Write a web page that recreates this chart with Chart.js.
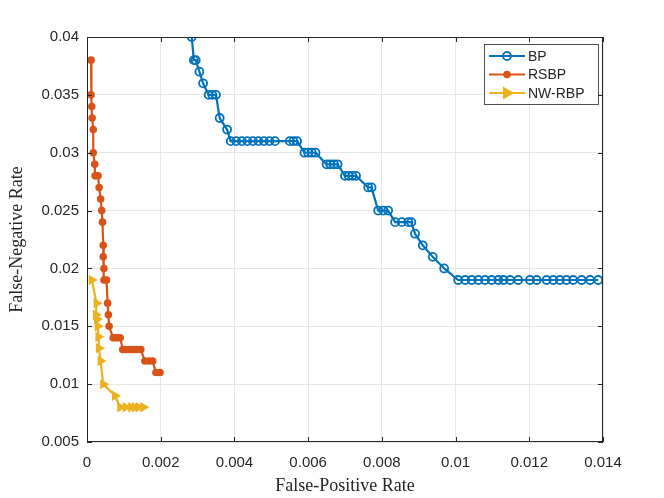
<!DOCTYPE html>
<html>
<head>
<meta charset="utf-8">
<script src="https://cdn.jsdelivr.net/npm/chart.js@4.4.1/dist/chart.umd.min.js"></script>
<style>
  html, body { margin: 0; padding: 0; background: #fff; }
  #wrap { width: 664px; height: 498px; }
</style>
</head>
<body>
<div id="wrap"><canvas id="roc"></canvas></div>
<script>
// curve values
const bpFpr = [0.00284, 0.0029, 0.00295, 0.00305, 0.00315, 0.0033, 0.0034, 0.0035, 0.0036, 0.0038,
  0.0039, 0.00405, 0.0042, 0.00435, 0.0045, 0.00465, 0.0048, 0.00495, 0.0051, 0.0055, 0.0056, 0.0057,
  0.0059, 0.006, 0.0061, 0.0062, 0.0065, 0.0066, 0.0067, 0.0068, 0.007, 0.0071, 0.0072, 0.0073,
  0.00763, 0.00772, 0.0079, 0.00804, 0.00817, 0.00836, 0.00854, 0.00872, 0.0088,
  0.0089, 0.00911, 0.00938, 0.00969,
  0.01007, 0.01026, 0.01044, 0.01062, 0.0108, 0.01098, 0.01116, 0.0113, 0.01148, 0.0117, 0.01202, 0.0122,
  0.01247, 0.01265, 0.01283, 0.01301, 0.01319, 0.01342, 0.01365, 0.01387];
const bpFnr = [0.040, 0.038, 0.038, 0.037, 0.036, 0.035, 0.035, 0.035, 0.033, 0.032,
  0.031, 0.031, 0.031, 0.031, 0.031, 0.031, 0.031, 0.031, 0.031, 0.031, 0.031, 0.031,
  0.030, 0.030, 0.030, 0.030, 0.029, 0.029, 0.029, 0.029, 0.028, 0.028, 0.028, 0.028,
  0.027, 0.027, 0.025, 0.025, 0.025, 0.024, 0.024, 0.024, 0.024,
  0.023, 0.022, 0.021, 0.020,
  0.019, 0.019, 0.019, 0.019, 0.019, 0.019, 0.019, 0.019, 0.019, 0.019, 0.019, 0.019,
  0.019, 0.019, 0.019, 0.019, 0.019, 0.019, 0.019, 0.019];

const rsbpFpr = [0.00011, 0.00011, 0.00013, 0.00014, 0.00017, 0.00017, 0.00021, 0.00022, 0.0003, 0.00033,
  0.00037, 0.0004, 0.00042, 0.00044, 0.00044, 0.00046, 0.00046, 0.00053, 0.00056, 0.00058, 0.0006,
  0.00071, 0.0008, 0.0009, 0.00097, 0.00105, 0.00115, 0.00125, 0.00135, 0.00146,
  0.00157, 0.00168, 0.00178, 0.00187, 0.00198];
const rsbpFnr = [0.038, 0.035, 0.034, 0.033, 0.032, 0.030, 0.029, 0.028, 0.028, 0.027,
  0.026, 0.025, 0.024, 0.022, 0.021, 0.020, 0.019, 0.019, 0.017, 0.016, 0.015,
  0.014, 0.014, 0.014, 0.013, 0.013, 0.013, 0.013, 0.013, 0.013,
  0.012, 0.012, 0.012, 0.011, 0.011];

const nwFpr = [0.00013, 0.00026, 0.00024, 0.00027, 0.00029, 0.00031, 0.00032, 0.00037, 0.00044, 0.00076,
  0.0009, 0.00105, 0.0012, 0.0013, 0.0014, 0.00153];
const nwFnr = [0.019, 0.017, 0.016, 0.0156, 0.015, 0.0141, 0.0131, 0.012, 0.010, 0.009,
  0.008, 0.008, 0.008, 0.008, 0.008, 0.008];

const seriesNames = ["BP", "RSBP", "NW-RBP"];
const seriesColors = ["#0072BD", "#D95319", "#EDB120"];

const axisColor = "#262626";

function pts(xs, ys) {
  return xs.map((x, i) => ({ x: x, y: ys[i] }));
}

// box + inward ticks + legend like matlab
const matlabFrame = {
  id: "matlabFrame",
  afterDraw(chart) {
    const ctx = chart.ctx;
    const a = chart.chartArea;
    const xs = chart.scales.x, ys = chart.scales.y;
    ctx.save();
    ctx.strokeStyle = axisColor;
    ctx.lineWidth = 1;
    ctx.strokeRect(a.left + 0.5, a.top + 0.5, a.right - a.left - 1, a.bottom - a.top - 1);
    const tl = 5;
    ctx.beginPath();
    xs.ticks.forEach(t => {
      const px = Math.round(xs.getPixelForValue(t.value)) + 0.5;
      ctx.moveTo(px, a.bottom); ctx.lineTo(px, a.bottom - tl);
      ctx.moveTo(px, a.top); ctx.lineTo(px, a.top + tl);
    });
    ys.ticks.forEach(t => {
      const py = Math.round(ys.getPixelForValue(t.value)) + 0.5;
      ctx.moveTo(a.left, py); ctx.lineTo(a.left + tl, py);
      ctx.moveTo(a.right, py); ctx.lineTo(a.right - tl, py);
    });
    ctx.stroke();

    // legend
    const bw = 114, bh = 60;
    const bx = a.right - 5 - bw, by = a.top + 7;
    ctx.fillStyle = "#fff";
    ctx.fillRect(bx, by, bw, bh);
    ctx.lineWidth = 0.8;
    ctx.strokeRect(bx + 0.5, by + 0.5, bw, bh);
    ctx.font = "14px 'Liberation Sans', Arial, sans-serif";
    ctx.textBaseline = "middle";
    ctx.textAlign = "left";
    seriesNames.forEach((name, i) => {
      const y = by + 12 + i * 18.5;
      const c = seriesColors[i];
      ctx.strokeStyle = c;
      ctx.lineWidth = 2;
      ctx.beginPath();
      ctx.moveTo(bx + 5, y); ctx.lineTo(bx + 41, y);
      ctx.stroke();
      const mx = bx + 23;
      if (i === 0) {
        ctx.lineWidth = 1.8;
        ctx.beginPath(); ctx.arc(mx, y, 4, 0, Math.PI * 2); ctx.stroke();
      } else if (i === 1) {
        ctx.fillStyle = c;
        ctx.beginPath(); ctx.arc(mx, y, 3.8, 0, Math.PI * 2); ctx.fill();
      } else {
        ctx.fillStyle = c;
        ctx.beginPath();
        ctx.moveTo(mx + 7, y); ctx.lineTo(mx - 4, y - 6.5); ctx.lineTo(mx - 4, y + 6.5);
        ctx.closePath(); ctx.fill();
      }
      ctx.fillStyle = axisColor;
      ctx.fillText(name, bx + 44, y + 1);
    });
    ctx.restore();
  }
};

const tickFont = { family: "'Liberation Sans', Arial, sans-serif", size: 15 };
const titleFont = { family: "'Liberation Serif', 'Times New Roman', serif", size: 18 };

const ctx = document.getElementById("roc").getContext("2d");
const chart = new Chart(ctx, {
  type: "scatter",
  data: {
    datasets: [
      {
        label: seriesNames[0],
        data: pts(bpFpr, bpFnr),
        showLine: true,
        borderColor: seriesColors[0],
        borderWidth: 2.2,
        pointStyle: "circle",
        pointRadius: 4,
        pointBorderWidth: 1.8,
        pointBackgroundColor: "rgba(0,0,0,0)",
        pointBorderColor: seriesColors[0]
      },
      {
        label: seriesNames[1],
        data: pts(rsbpFpr, rsbpFnr),
        showLine: true,
        borderColor: seriesColors[1],
        borderWidth: 2.2,
        pointStyle: "circle",
        pointRadius: 3.8,
        pointBorderWidth: 0,
        pointBackgroundColor: seriesColors[1]
      },
      {
        label: seriesNames[2],
        data: pts(nwFpr, nwFnr),
        showLine: true,
        borderColor: seriesColors[2],
        borderWidth: 2.2,
        pointStyle: "triangle",
        rotation: 90,
        pointRadius: 6,
        pointBorderWidth: 0,
        pointBackgroundColor: seriesColors[2]
      }
    ]
  },
  options: {
    responsive: true,
    maintainAspectRatio: false,
    animation: false,
    layout: { padding: { top: 37, right: 61, left: 0, bottom: 0 } },
    plugins: {
      legend: { display: false },
      tooltip: { enabled: false }
    },
    scales: {
      x: {
        type: "linear",
        min: 0,
        max: 0.014,
        afterFit: (s) => { s.height = 56; },
        ticks: {
          stepSize: 0.002,
          padding: 12,
          color: axisColor,
          font: tickFont,
          maxRotation: 0,
          callback: (v) => String(+v.toFixed(4))
        },
        grid: { color: "#e6e6e6", drawTicks: false },
        border: { display: false },
        title: {
          display: true,
          text: "False-Positive Rate",
          color: axisColor,
          font: titleFont,
          padding: { top: 1, bottom: 1 }
        }
      },
      y: {
        type: "linear",
        min: 0.005,
        max: 0.04,
        afterFit: (s) => { s.width = 87; },
        ticks: {
          stepSize: 0.005,
          padding: 8,
          color: axisColor,
          font: tickFont,
          callback: (v) => String(+v.toFixed(4))
        },
        grid: { color: "#e6e6e6", drawTicks: false },
        border: { display: false },
        title: {
          display: true,
          text: "False-Negative Rate",
          color: axisColor,
          font: titleFont,
          padding: { top: 6, bottom: 6 }
        }
      }
    }
  },
  plugins: [matlabFrame]
});
</script>
</body>
</html>
